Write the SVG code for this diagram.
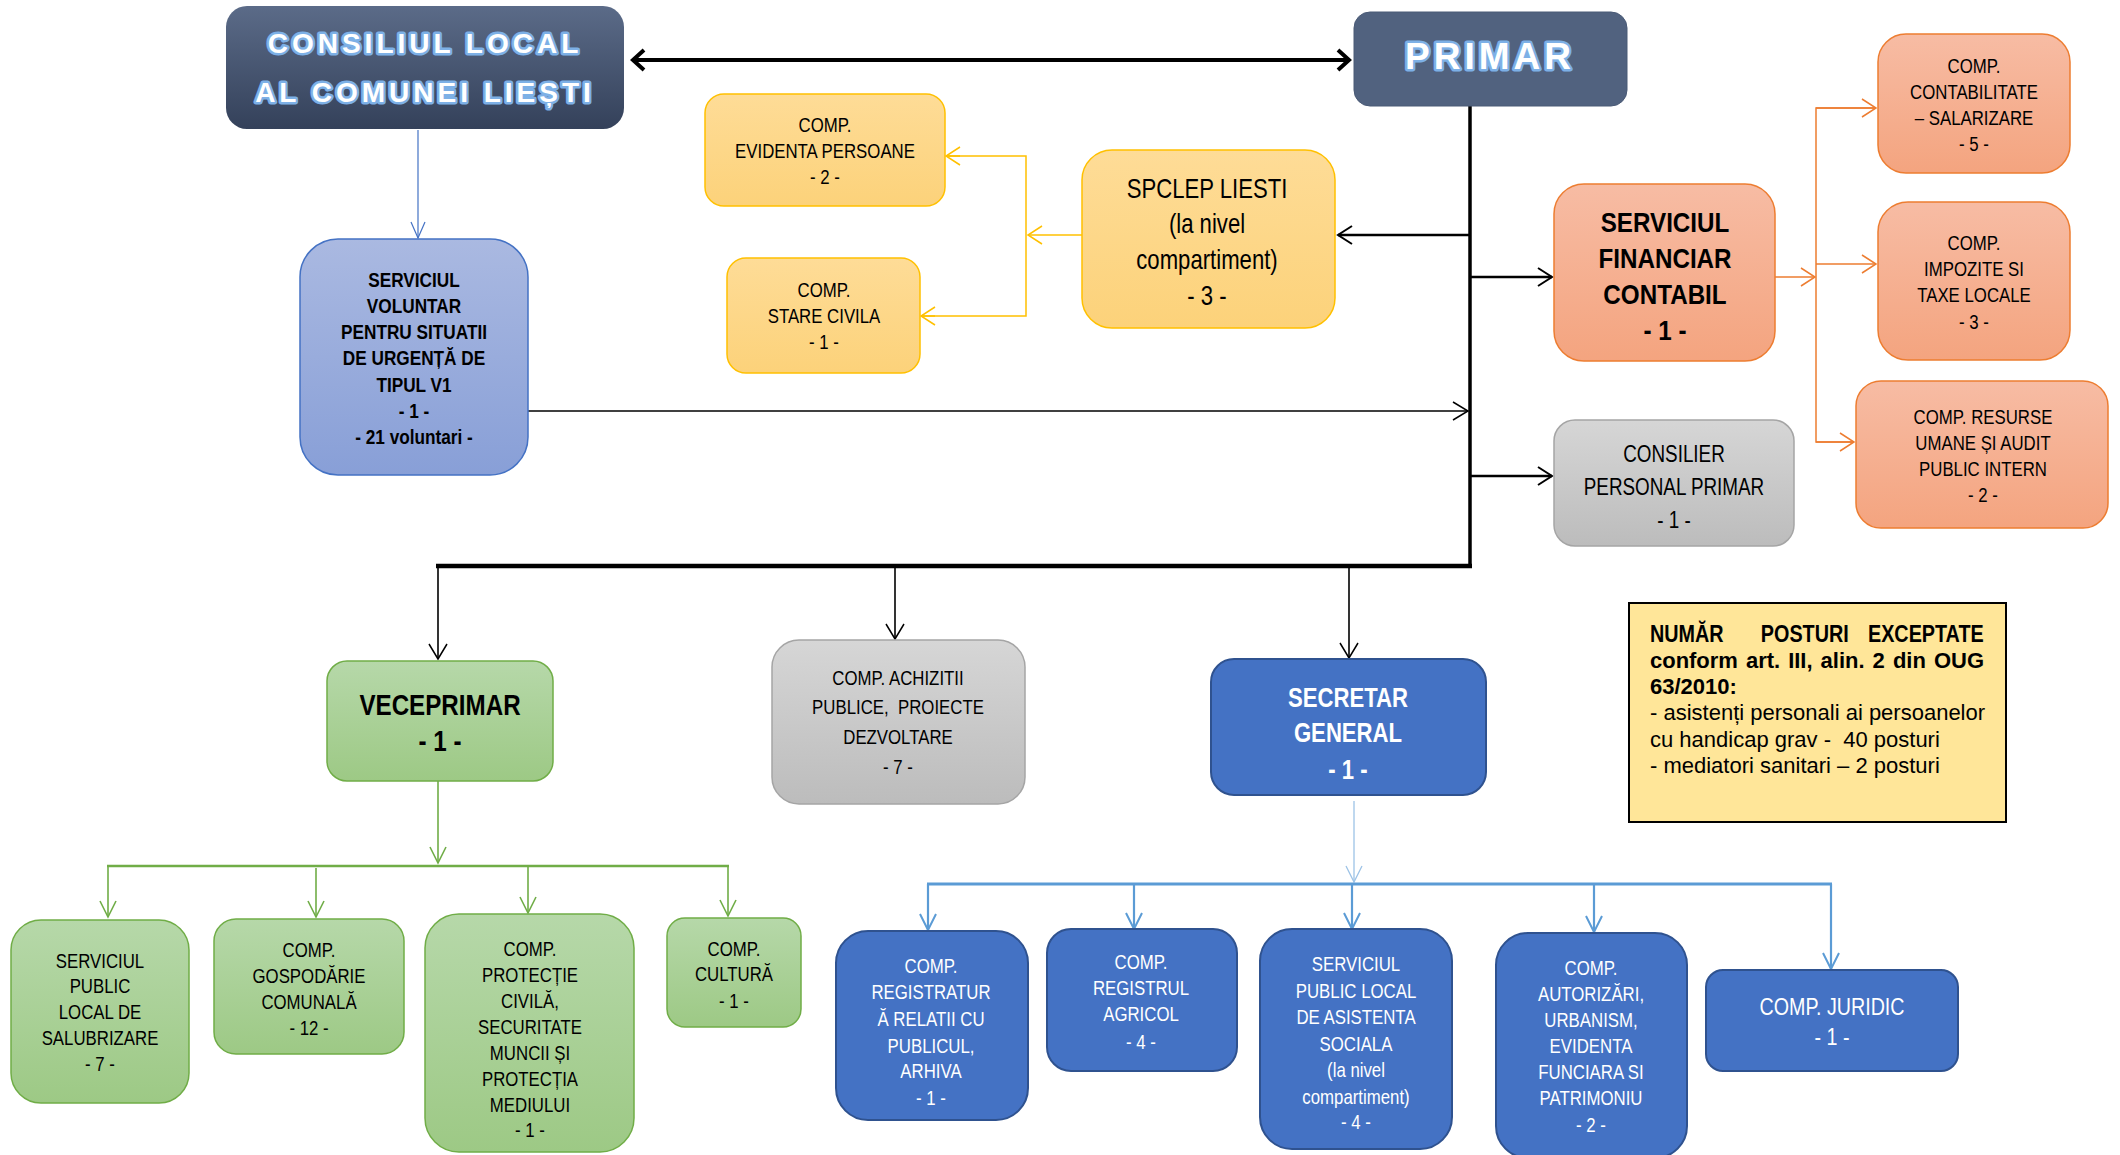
<svg xmlns="http://www.w3.org/2000/svg" width="2120" height="1155" viewBox="0 0 2120 1155">
<style>
.t{font-family:"Liberation Sans",Arial,sans-serif;font-size:20.5px;text-anchor:middle;fill:#000}
.b{font-weight:bold}
.w{fill:#fff}
.s21{font-size:21px}
.s23{font-size:23px}
.s24{font-size:24px}
.s27{font-size:27px}
.s28{font-size:28.5px}
.s29{font-size:29.5px}
.ttl{font-family:"Liberation Sans",Arial,sans-serif;font-weight:bold;fill:#fff;text-anchor:middle;stroke:#7db0e6;stroke-width:5px;stroke-linejoin:round;paint-order:stroke}
.n{font-family:"Liberation Sans",Arial,sans-serif;font-size:22px;fill:#000}
</style>
<defs>
<linearGradient id="gDark" x1="0" y1="0" x2="0" y2="1"><stop offset="0" stop-color="#5b6b88"/><stop offset="1" stop-color="#34415a"/></linearGradient>
<linearGradient id="gYel" x1="0" y1="0" x2="0" y2="1"><stop offset="0" stop-color="#fedc97"/><stop offset="1" stop-color="#fcd27a"/></linearGradient>
<linearGradient id="gOr" x1="0" y1="0" x2="0" y2="1"><stop offset="0" stop-color="#f7bca4"/><stop offset="1" stop-color="#f4a47f"/></linearGradient>
<linearGradient id="gGr" x1="0" y1="0" x2="0" y2="1"><stop offset="0" stop-color="#d6d6d6"/><stop offset="1" stop-color="#bcbcbc"/></linearGradient>
<linearGradient id="gGn" x1="0" y1="0" x2="0" y2="1"><stop offset="0" stop-color="#b6d8a9"/><stop offset="1" stop-color="#9dc985"/></linearGradient>
<linearGradient id="gVol" x1="0" y1="0" x2="0" y2="1"><stop offset="0" stop-color="#aab9e1"/><stop offset="1" stop-color="#889fd7"/></linearGradient>
<marker id="aBig" viewBox="-16 -14 20 28" refX="0" refY="0" markerWidth="20" markerHeight="28" orient="auto-start-reverse" markerUnits="userSpaceOnUse"><path d="M-11,-10 L0,0 L-11,10" fill="none" stroke="#000" stroke-width="4"/></marker>
<marker id="aK" viewBox="-18 -12 20 24" refX="0" refY="0" markerWidth="20" markerHeight="24" orient="auto" markerUnits="userSpaceOnUse"><path d="M-14,-9 L0,0 L-14,9" fill="none" stroke="#000" stroke-width="2"/></marker>
<marker id="aKt" viewBox="-18 -12 20 24" refX="0" refY="0" markerWidth="20" markerHeight="24" orient="auto" markerUnits="userSpaceOnUse"><path d="M-15,-9 L0,0 L-15,9" fill="none" stroke="#000" stroke-width="1.5"/></marker>
<marker id="aY" viewBox="-18 -12 20 24" refX="0" refY="0" markerWidth="20" markerHeight="24" orient="auto" markerUnits="userSpaceOnUse"><path d="M-14,-9 L0,0 L-14,9" fill="none" stroke="#ffc000" stroke-width="1.5"/></marker>
<marker id="aO" viewBox="-18 -12 20 24" refX="0" refY="0" markerWidth="20" markerHeight="24" orient="auto" markerUnits="userSpaceOnUse"><path d="M-14,-9 L0,0 L-14,9" fill="none" stroke="#ed7d31" stroke-width="1.5"/></marker>
<marker id="aG" viewBox="-18 -12 20 24" refX="0" refY="0" markerWidth="20" markerHeight="24" orient="auto" markerUnits="userSpaceOnUse"><path d="M-16,-8 L0,0 L-16,8" fill="none" stroke="#70ad47" stroke-width="1.6"/></marker>
<marker id="aB" viewBox="-18 -12 20 24" refX="0" refY="0" markerWidth="20" markerHeight="24" orient="auto" markerUnits="userSpaceOnUse"><path d="M-16,-8 L0,0 L-16,8" fill="none" stroke="#5b9bd5" stroke-width="2"/></marker>
<marker id="aLB" viewBox="-18 -12 20 24" refX="0" refY="0" markerWidth="20" markerHeight="24" orient="auto" markerUnits="userSpaceOnUse"><path d="M-16,-8 L0,0 L-16,8" fill="none" stroke="#9dc3e6" stroke-width="1.3"/></marker>
<marker id="aDB" viewBox="-18 -12 20 24" refX="0" refY="0" markerWidth="20" markerHeight="24" orient="auto" markerUnits="userSpaceOnUse"><path d="M-16,-7 L0,0 L-16,7" fill="none" stroke="#4472c4" stroke-width="1.2"/></marker>
</defs>
<rect width="2120" height="1155" fill="#fff"/>

<g id="connectors">
<line x1="633" y1="60" x2="1349" y2="60" stroke="#000" stroke-width="4" marker-start="url(#aBig)" marker-end="url(#aBig)"/>
<line x1="1470" y1="106" x2="1470" y2="568" stroke="#000" stroke-width="3.5"/>
<line x1="436" y1="566" x2="1472" y2="566" stroke="#000" stroke-width="4.5"/>
<line x1="438" y1="566" x2="438" y2="659" stroke="#000" stroke-width="1.6" marker-end="url(#aKt)"/>
<line x1="895" y1="566" x2="895" y2="639" stroke="#000" stroke-width="1.6" marker-end="url(#aKt)"/>
<line x1="1349" y1="566" x2="1349" y2="658" stroke="#000" stroke-width="1.6" marker-end="url(#aKt)"/>
<line x1="1470" y1="235" x2="1338" y2="235" stroke="#000" stroke-width="2.5" marker-end="url(#aK)"/>
<line x1="1470" y1="277" x2="1552" y2="277" stroke="#000" stroke-width="2.5" marker-end="url(#aK)"/>
<line x1="1470" y1="476" x2="1552" y2="476" stroke="#000" stroke-width="2.5" marker-end="url(#aK)"/>
<line x1="528" y1="411" x2="1468" y2="411" stroke="#000" stroke-width="1.5" marker-end="url(#aKt)"/>
<line x1="418" y1="130" x2="418" y2="238" stroke="#4472c4" stroke-width="1.2" marker-end="url(#aDB)"/>
<g fill="none" stroke="#ffc000" stroke-width="1.5">
<line x1="1082" y1="235" x2="1028" y2="235" marker-end="url(#aY)"/>
<polyline points="946,156 1026,156 1026,316 921,316"/>
<line x1="960" y1="156" x2="946" y2="156" marker-end="url(#aY)"/>
<line x1="935" y1="316" x2="921" y2="316" marker-end="url(#aY)"/>
</g>
<g fill="none" stroke="#ed7d31" stroke-width="1.5">
<line x1="1775" y1="277" x2="1815" y2="277" marker-end="url(#aO)"/>
<polyline points="1876,108 1816,108 1816,442 1854,442"/>
<line x1="1816" y1="108" x2="1876" y2="108" marker-end="url(#aO)"/>
<line x1="1816" y1="264" x2="1876" y2="264" marker-end="url(#aO)"/>
<line x1="1816" y1="442" x2="1854" y2="442" marker-end="url(#aO)"/>
</g>
<g fill="none" stroke="#70ad47">
<line x1="438" y1="781" x2="438" y2="863" stroke-width="1.6" marker-end="url(#aG)"/>
<line x1="107" y1="866" x2="729" y2="866" stroke-width="2.5"/>
<line x1="108" y1="866" x2="108" y2="917" stroke-width="1.6" marker-end="url(#aG)"/>
<line x1="316" y1="868" x2="316" y2="917" stroke-width="1.6" marker-end="url(#aG)"/>
<line x1="528" y1="866" x2="528" y2="913" stroke-width="1.6" marker-end="url(#aG)"/>
<line x1="728" y1="866" x2="728" y2="916" stroke-width="1.6" marker-end="url(#aG)"/>
</g>
<line x1="1354" y1="801" x2="1354" y2="882" stroke="#9dc3e6" stroke-width="1.3" marker-end="url(#aLB)"/>
<g fill="none" stroke="#5b9bd5">
<line x1="927" y1="884" x2="1832" y2="884" stroke-width="3"/>
<line x1="928" y1="884" x2="928" y2="930" stroke-width="2.2" marker-end="url(#aB)"/>
<line x1="1134" y1="884" x2="1134" y2="929" stroke-width="2.2" marker-end="url(#aB)"/>
<line x1="1352" y1="884" x2="1352" y2="929" stroke-width="2.2" marker-end="url(#aB)"/>
<line x1="1594" y1="884" x2="1594" y2="932" stroke-width="2.2" marker-end="url(#aB)"/>
<line x1="1831" y1="884" x2="1831" y2="969" stroke-width="2.2" marker-end="url(#aB)"/>
</g>
</g>

<g id="consiliul">
<rect x="226" y="6" width="398" height="123" rx="21" fill="url(#gDark)"/>
<text class="ttl" x="425" y="53" font-size="28" letter-spacing="4">CONSILIUL LOCAL</text>
<text class="ttl" x="425" y="102" font-size="28" letter-spacing="4">AL COMUNEI LIEȘTI</text>
</g>
<g id="primar">
<rect x="1354" y="12" width="273" height="94" rx="16" fill="#51627f" stroke="#4a5a76" stroke-width="1"/>
<text class="ttl" x="1490" y="69" font-size="37" letter-spacing="4">PRIMAR</text>
</g>
<g id="evidenta">
<rect x="705" y="94" width="240" height="112" rx="19" fill="url(#gYel)" stroke="#ffc000" stroke-width="1.5"/>
<g transform="matrix(0.82 0 0 1 825 0)">
<text class="t" x="0" y="132">COMP.</text>
<text class="t" x="0" y="158">EVIDENTA PERSOANE</text>
<text class="t" x="0" y="184">- 2 -</text>
</g>
</g>
<g id="starecivila">
<rect x="727" y="258" width="193" height="115" rx="19" fill="url(#gYel)" stroke="#ffc000" stroke-width="1.5"/>
<g transform="matrix(0.82 0 0 1 824 0)">
<text class="t" x="0" y="297">COMP.</text>
<text class="t" x="0" y="323">STARE CIVILA</text>
<text class="t" x="0" y="349">- 1 -</text>
</g>
</g>
<g id="spclep">
<rect x="1082" y="150" width="253" height="178" rx="30" fill="url(#gYel)" stroke="#ffc000" stroke-width="1.5"/>
<g transform="matrix(0.82 0 0 1 1207 0)">
<text class="t s27" x="0" y="198">SPCLEP LIESTI</text>
<text class="t s27" x="0" y="233">(la nivel</text>
<text class="t s27" x="0" y="269">compartiment)</text>
<text class="t s27" x="0" y="305">- 3 -</text>
</g>
</g>
<g id="financiar">
<rect x="1554" y="184" width="221" height="177" rx="30" fill="url(#gOr)" stroke="#ed7d31" stroke-width="1.5"/>
<g transform="matrix(0.85 0 0 1 1665 0)">
<text class="t b s28" x="0" y="232">SERVICIUL</text>
<text class="t b s28" x="0" y="268">FINANCIAR</text>
<text class="t b s28" x="0" y="304">CONTABIL</text>
<text class="t b s28" x="0" y="340">- 1 -</text>
</g>
</g>
<g id="contabilitate">
<rect x="1878" y="34" width="192" height="139" rx="28" fill="url(#gOr)" stroke="#ed7d31" stroke-width="1.5"/>
<g transform="matrix(0.82 0 0 1 1974 0)">
<text class="t" x="0" y="73">COMP.</text>
<text class="t" x="0" y="99">CONTABILITATE</text>
<text class="t" x="0" y="125">– SALARIZARE</text>
<text class="t" x="0" y="151">- 5 -</text>
</g>
</g>
<g id="impozite">
<rect x="1878" y="202" width="192" height="158" rx="30" fill="url(#gOr)" stroke="#ed7d31" stroke-width="1.5"/>
<g transform="matrix(0.82 0 0 1 1974 0)">
<text class="t" x="0" y="250">COMP.</text>
<text class="t" x="0" y="276">IMPOZITE SI</text>
<text class="t" x="0" y="302">TAXE LOCALE</text>
<text class="t" x="0" y="329">- 3 -</text>
</g>
</g>
<g id="resurse">
<rect x="1856" y="381" width="252" height="147" rx="25" fill="url(#gOr)" stroke="#ed7d31" stroke-width="1.5"/>
<g transform="matrix(0.82 0 0 1 1983 0)">
<text class="t" x="0" y="424">COMP. RESURSE</text>
<text class="t" x="0" y="450">UMANE ȘI AUDIT</text>
<text class="t" x="0" y="476">PUBLIC INTERN</text>
<text class="t" x="0" y="502">- 2 -</text>
</g>
</g>
<g id="consilier">
<rect x="1554" y="420" width="240" height="126" rx="21" fill="url(#gGr)" stroke="#a5a5a5" stroke-width="1.5"/>
<g transform="matrix(0.82 0 0 1 1674 0)">
<text class="t s23" x="0" y="462">CONSILIER</text>
<text class="t s23" x="0" y="495">PERSONAL PRIMAR</text>
<text class="t s23" x="0" y="528">- 1 -</text>
</g>
</g>
<g id="voluntar">
<rect x="300" y="239" width="228" height="236" rx="38" fill="url(#gVol)" stroke="#4472c4" stroke-width="1.5"/>
<g transform="matrix(0.82 0 0 1 414 0)">
<text class="t b s21" x="0" y="287">SERVICIUL</text>
<text class="t b s21" x="0" y="313">VOLUNTAR</text>
<text class="t b s21" x="0" y="339">PENTRU SITUATII</text>
<text class="t b s21" x="0" y="365">DE URGENȚĂ DE</text>
<text class="t b s21" x="0" y="392">TIPUL V1</text>
<text class="t b s21" x="0" y="418">- 1 -</text>
<text class="t b s21" x="0" y="444">- 21 voluntari -</text>
</g>
</g>
<g id="viceprimar">
<rect x="327" y="661" width="226" height="120" rx="20" fill="url(#gGn)" stroke="#70ad47" stroke-width="1.5"/>
<g transform="matrix(0.82 0 0 1 440 0)">
<text class="t b s29" x="0" y="715">VECEPRIMAR</text>
<text class="t b s29" x="0" y="751">- 1 -</text>
</g>
</g>
<g id="achizitii">
<rect x="772" y="640" width="253" height="164" rx="27" fill="url(#gGr)" stroke="#a5a5a5" stroke-width="1.5"/>
<g transform="matrix(0.82 0 0 1 898 0)">
<text class="t" x="0" y="685">COMP. ACHIZITII</text>
<text class="t" x="0" y="714" xml:space="preserve">PUBLICE,  PROIECTE</text>
<text class="t" x="0" y="744">DEZVOLTARE</text>
<text class="t" x="0" y="774">- 7 -</text>
</g>
</g>
<g id="secretar">
<rect x="1211" y="659" width="275" height="136" rx="23" fill="#4472c4" stroke="#2f528f" stroke-width="2"/>
<g transform="matrix(0.82 0 0 1 1348 0)">
<text class="t b w s27" x="0" y="707">SECRETAR</text>
<text class="t b w s27" x="0" y="742">GENERAL</text>
<text class="t b w s27" x="0" y="779">- 1 -</text>
</g>
</g>
<g id="nota">
<rect x="1629" y="603" width="377" height="219" fill="#ffe699" stroke="#000" stroke-width="2"/>
<g transform="matrix(0.86 0 0 1 1650 0)">
<text class="n b" x="0" y="642" style="font-size:23px">NUMĂR</text>
<text class="n b" x="180" y="642" text-anchor="middle" style="font-size:23px">POSTURI</text>
<text class="n b" x="388" y="642" text-anchor="end" style="font-size:23px">EXCEPTATE</text>
</g>
<text class="n b" x="1650" y="668" textLength="334" lengthAdjust="spacing" word-spacing="2">conform art. III, alin. 2 din OUG</text>
<text class="n b" x="1650" y="694">63/2010:</text>
<text class="n" x="1650" y="720">- asistenți personali ai persoanelor</text>
<text class="n" x="1650" y="747" xml:space="preserve">cu handicap grav -  40 posturi</text>
<text class="n" x="1650" y="773">- mediatori sanitari – 2 posturi</text>
</g>
<g id="salubrizare">
<rect x="11" y="920" width="178" height="183" rx="30" fill="url(#gGn)" stroke="#70ad47" stroke-width="1.5"/>
<g transform="matrix(0.82 0 0 1 100 0)">
<text class="t" x="0" y="968">SERVICIUL</text>
<text class="t" x="0" y="993">PUBLIC</text>
<text class="t" x="0" y="1019">LOCAL DE</text>
<text class="t" x="0" y="1045">SALUBRIZARE</text>
<text class="t" x="0" y="1071">- 7 -</text>
</g>
</g>
<g id="gospodarie">
<rect x="214" y="919" width="190" height="135" rx="22" fill="url(#gGn)" stroke="#70ad47" stroke-width="1.5"/>
<g transform="matrix(0.82 0 0 1 309 0)">
<text class="t" x="0" y="957">COMP.</text>
<text class="t" x="0" y="983">GOSPODĂRIE</text>
<text class="t" x="0" y="1009">COMUNALĂ</text>
<text class="t" x="0" y="1035">- 12 -</text>
</g>
</g>
<g id="protectie">
<rect x="425" y="914" width="209" height="238" rx="34" fill="url(#gGn)" stroke="#70ad47" stroke-width="1.5"/>
<g transform="matrix(0.82 0 0 1 530 0)">
<text class="t" x="0" y="956">COMP.</text>
<text class="t" x="0" y="982">PROTECȚIE</text>
<text class="t" x="0" y="1008">CIVILĂ,</text>
<text class="t" x="0" y="1034">SECURITATE</text>
<text class="t" x="0" y="1060">MUNCII ȘI</text>
<text class="t" x="0" y="1086">PROTECȚIA</text>
<text class="t" x="0" y="1112">MEDIULUI</text>
<text class="t" x="0" y="1137">- 1 -</text>
</g>
</g>
<g id="cultura">
<rect x="667" y="918" width="134" height="109" rx="18" fill="url(#gGn)" stroke="#70ad47" stroke-width="1.5"/>
<g transform="matrix(0.82 0 0 1 734 0)">
<text class="t" x="0" y="956">COMP.</text>
<text class="t" x="0" y="981">CULTURĂ</text>
<text class="t" x="0" y="1008">- 1 -</text>
</g>
</g>
<g id="registratura">
<rect x="836" y="931" width="192" height="189" rx="32" fill="#4472c4" stroke="#2f528f" stroke-width="2"/>
<g transform="matrix(0.82 0 0 1 931 0)">
<text class="t w" x="0" y="973">COMP.</text>
<text class="t w" x="0" y="999">REGISTRATUR</text>
<text class="t w" x="0" y="1026">Ă RELATII CU</text>
<text class="t w" x="0" y="1053">PUBLICUL,</text>
<text class="t w" x="0" y="1078">ARHIVA</text>
<text class="t w" x="0" y="1105">- 1 -</text>
</g>
</g>
<g id="registrul">
<rect x="1047" y="929" width="190" height="142" rx="24" fill="#4472c4" stroke="#2f528f" stroke-width="2"/>
<g transform="matrix(0.82 0 0 1 1141 0)">
<text class="t w" x="0" y="969">COMP.</text>
<text class="t w" x="0" y="995">REGISTRUL</text>
<text class="t w" x="0" y="1021">AGRICOL</text>
<text class="t w" x="0" y="1049">- 4 -</text>
</g>
</g>
<g id="asistenta">
<rect x="1260" y="929" width="192" height="220" rx="32" fill="#4472c4" stroke="#2f528f" stroke-width="2"/>
<g transform="matrix(0.82 0 0 1 1356 0)">
<text class="t w" x="0" y="971">SERVICIUL</text>
<text class="t w" x="0" y="998">PUBLIC LOCAL</text>
<text class="t w" x="0" y="1024">DE ASISTENTA</text>
<text class="t w" x="0" y="1051">SOCIALA</text>
<text class="t w" x="0" y="1077">(la nivel</text>
<text class="t w" x="0" y="1104">compartiment)</text>
<text class="t w" x="0" y="1129">- 4 -</text>
</g>
</g>
<g id="autorizari">
<rect x="1496" y="933" width="191" height="225" rx="32" fill="#4472c4" stroke="#2f528f" stroke-width="2"/>
<g transform="matrix(0.82 0 0 1 1591 0)">
<text class="t w" x="0" y="975">COMP.</text>
<text class="t w" x="0" y="1001">AUTORIZĂRI,</text>
<text class="t w" x="0" y="1027">URBANISM,</text>
<text class="t w" x="0" y="1053">EVIDENTA</text>
<text class="t w" x="0" y="1079">FUNCIARA SI</text>
<text class="t w" x="0" y="1105">PATRIMONIU</text>
<text class="t w" x="0" y="1132">- 2 -</text>
</g>
</g>
<g id="juridic">
<rect x="1706" y="970" width="252" height="101" rx="17" fill="#4472c4" stroke="#2f528f" stroke-width="2"/>
<g transform="matrix(0.82 0 0 1 1832 0)">
<text class="t w s24" x="0" y="1015">COMP. JURIDIC</text>
<text class="t w s24" x="0" y="1045">- 1 -</text>
</g>
</g>
</svg>
